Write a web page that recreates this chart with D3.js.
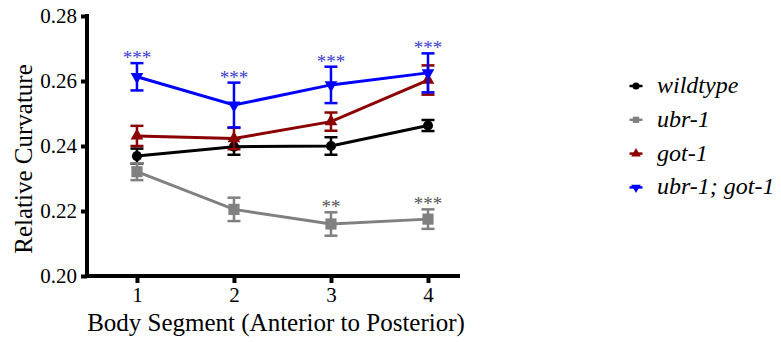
<!DOCTYPE html>
<html>
<head>
<meta charset="utf-8">
<script src="https://cdn.jsdelivr.net/npm/d3@7"></script>
<style>
  html, body { margin: 0; padding: 0; background: #fff; }
  svg { display: block; }
</style>
</head>
<body>
<svg id="chart" width="781" height="342"></svg>
<script>
// Body segments along the x axis
const segments = [1, 2, 3, 4];
const yTicks = [0.20, 0.22, 0.24, 0.26, 0.28];

// Mean relative curvature per segment, with error (SEM)
const wildtype     = [0.2369, 0.2398, 0.2400, 0.2463];
const wildtypeErr  = [0.0023, 0.0025, 0.0027, 0.0017];
const ubr1         = [0.2321, 0.2205, 0.2160, 0.2175];
const ubr1Err      = [0.0026, 0.0036, 0.0036, 0.0030];
const got1         = [0.2431, 0.2423, 0.2475, 0.2603];
const got1Err      = [0.0031, 0.0033, 0.0028, 0.0045];
const ubr1got1     = [0.2613, 0.2526, 0.2588, 0.2625];
const ubr1got1Err  = [0.0042, 0.0069, 0.0056, 0.0060];

// Significance markers above the error bars
const ubr1Stars     = ["", "", "**", "***"];
const ubr1got1Stars = ["***", "***", "***", "***"];

const series = [
  { name: "wildtype",      values: wildtype, err: wildtypeErr, color: "#000000", shape: "circle" },
  { name: "ubr-1",         values: ubr1,     err: ubr1Err,     color: "#808080", shape: "square", stars: ubr1Stars, starColor: "#555555" },
  { name: "got-1",         values: got1,     err: got1Err,     color: "#8b0000", shape: "triangle" },
  { name: "ubr-1; got-1",  values: ubr1got1, err: ubr1got1Err, color: "#0000ff", shape: "triangleDown", stars: ubr1got1Stars, starColor: "#3b3bd0" }
];

const SERIF = '"Liberation Serif", "Times New Roman", serif';
const svg = d3.select("#chart");
const plotLeft = 87, plotRight = 460, plotTop = 16, plotBottom = 276;

const x = d3.scaleLinear().domain([0.485, 4.33]).range([plotLeft, plotRight]);
const y = d3.scaleLinear().domain([0.20, 0.28]).range([plotBottom, plotTop]);

// Axes
const yAxis = d3.axisLeft(y).tickValues(yTicks).tickFormat(d3.format(".2f")).tickSize(6).tickPadding(4);
const xAxis = d3.axisBottom(x).tickValues(segments).tickFormat(d3.format("d")).tickSize(7).tickPadding(4);

const gy = svg.append("g").attr("transform", `translate(${plotLeft},0)`).call(yAxis);
const gx = svg.append("g").attr("transform", `translate(0,${plotBottom})`).call(xAxis);

[gy, gx].forEach(g => {
  g.select(".domain").attr("stroke", "#000").attr("stroke-width", 4);
  g.selectAll(".tick line").attr("stroke", "#000").attr("stroke-width", 4);
  g.selectAll(".tick text").attr("fill", "#000")
    .style("font-family", SERIF).style("font-size", "21px");
});
// Axis lines as a clean L-shape
gy.select(".domain").attr("d", `M0,${plotTop - 2}V${plotBottom + 2}`);
gx.select(".domain").attr("d", `M${plotLeft - 2},0H${plotRight}`);

// Axis titles
svg.append("text")
  .attr("transform", "translate(32,159) rotate(-90)")
  .attr("text-anchor", "middle")
  .style("font-family", SERIF)
  .style("font-size", "25px")
  .text("Relative Curvature");

svg.append("text")
  .attr("x", 276).attr("y", 331)
  .attr("text-anchor", "middle")
  .style("font-family", SERIF)
  .style("font-size", "25px")
  .text("Body Segment (Anterior to Posterior)");

// Marker symbols
function symbolPath(shape, size) {
  const types = {
    circle: d3.symbolCircle,
    square: d3.symbolSquare,
    triangle: d3.symbolTriangle,
    triangleDown: d3.symbolTriangle
  };
  return d3.symbol().type(types[shape]).size(size)();
}
const markerSize = { circle: 80, square: 125, triangle: 70, triangleDown: 70 };

const line = d3.line().x((d, i) => x(segments[i])).y(d => y(d));
const capW = 6.5;

series.forEach(s => {
  const g = svg.append("g");
  // Connecting line
  g.append("path")
    .attr("d", line(s.values))
    .attr("fill", "none")
    .attr("stroke", s.color)
    .attr("stroke-width", 3);

  // Error bars
  s.values.forEach((v, i) => {
    const cx = x(segments[i]);
    const y1 = y(v + s.err[i]), y0 = y(v - s.err[i]);
    g.append("line").attr("x1", cx).attr("x2", cx).attr("y1", y1).attr("y2", y0)
      .attr("stroke", s.color).attr("stroke-width", 2.5);
    [y1, y0].forEach(yy => {
      g.append("line").attr("x1", cx - capW).attr("x2", cx + capW).attr("y1", yy).attr("y2", yy)
        .attr("stroke", s.color).attr("stroke-width", 2.5);
    });
  });

  // Markers
  s.values.forEach((v, i) => {
    const rot = s.shape === "triangleDown" ? " rotate(180)" : "";
    g.append("path")
      .attr("d", symbolPath(s.shape, markerSize[s.shape]))
      .attr("transform", `translate(${x(segments[i])},${y(v)})${rot}`)
      .attr("fill", s.color);
  });

  // Significance stars
  if (s.stars) {
    s.values.forEach((v, i) => {
      if (!s.stars[i]) return;
      g.append("text")
        .attr("x", x(segments[i]))
        .attr("y", y(v + s.err[i]) + 1)
        .attr("text-anchor", "middle")
        .attr("fill", s.starColor)
        .style("font-family", SERIF)
        .style("font-size", "19px")
        .text(s.stars[i]);
    });
  }
});

// Legend
const legend = svg.append("g").attr("transform", "translate(636,86)");
series.forEach((s, i) => {
  const row = legend.append("g").attr("transform", `translate(0,${i * 33.8})`);
  row.append("line").attr("x1", -6.5).attr("x2", 6.5).attr("y1", 0).attr("y2", 0)
    .attr("stroke", s.color).attr("stroke-width", 2.5);
  const rot = s.shape === "triangleDown" ? " rotate(180)" : "";
  row.append("path")
    .attr("d", symbolPath(s.shape, 40))
    .attr("transform", `translate(0,0)${rot}`)
    .attr("fill", s.color);
  row.append("text")
    .attr("x", 21).attr("y", 7)
    .style("font-family", SERIF)
    .style("font-size", "24px")
    .style("font-style", "italic")
    .text(s.name);
});
</script>
</body>
</html>
